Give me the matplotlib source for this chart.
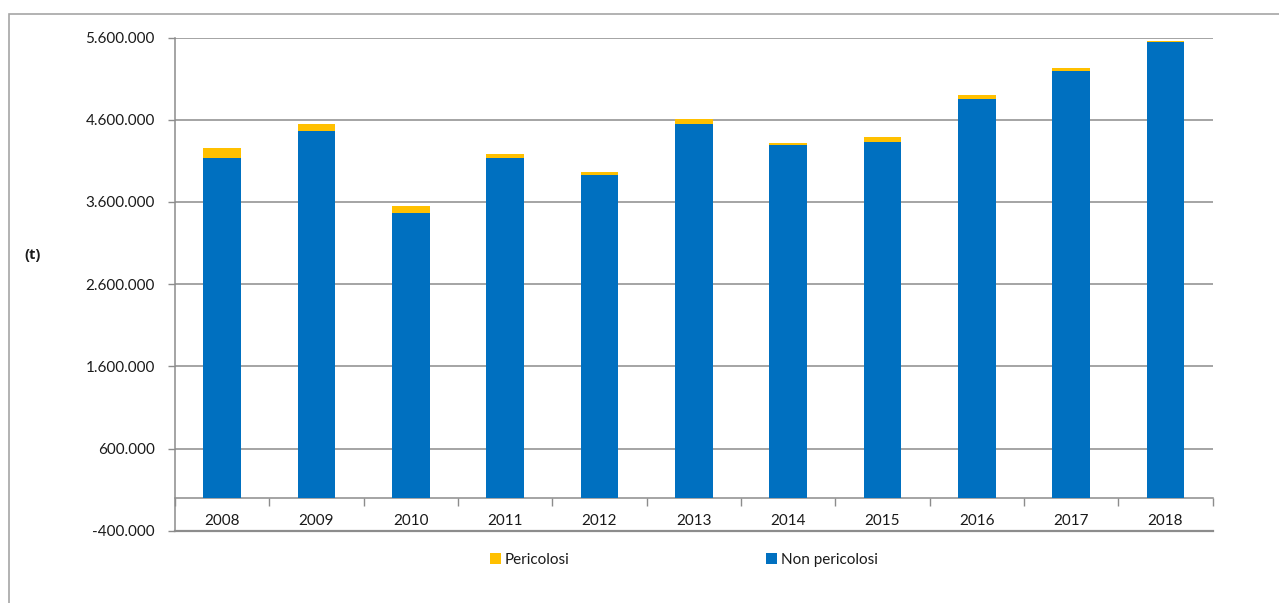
import matplotlib
matplotlib.use("Agg")
import matplotlib.pyplot as plt
import numpy as np
from matplotlib.patches import Rectangle
from matplotlib.ticker import FuncFormatter, FixedLocator

years = ["2008", "2009", "2010", "2011", "2012", "2013", "2014", "2015", "2016", "2017", "2018"]
non_pericolosi = [4133000, 4461000, 3467000, 4133000, 3926000, 4551000, 4287000, 4331000, 4851000, 5196000, 5549000]
pericolosi = [125000, 82000, 81000, 48000, 33000, 53000, 32000, 54000, 49000, 33000, 12000]
y_ticks = [-400000, 600000, 1600000, 2600000, 3600000, 4600000, 5600000]

plt.rcParams['font.family'] = ['Lato', 'DejaVu Sans']
BLUE = '#0070C0'
YELLOW = '#FFC000'
GRID = '#8c8c8c'
TXT = '#1a1a1a'

fig = plt.figure(figsize=(12.79, 6.03), dpi=100)
ax = fig.add_axes([175/1279, 1-530.7/603, (1212.7-175)/1279, (530.7-37.5)/603])

x = np.arange(len(years))
ax.bar(x, non_pericolosi, width=0.4, color=BLUE, label='Non pericolosi', zorder=3)
ax.bar(x, pericolosi, width=0.4, bottom=non_pericolosi, color=YELLOW, label='Pericolosi', zorder=3)

ax.set_xlim(-0.5, len(years)-0.5)
ax.set_ylim(y_ticks[0], y_ticks[-1])

# y axis
ax.set_yticks(y_ticks)
ax.yaxis.set_major_formatter(FuncFormatter(lambda v, p: f"{int(v):,}".replace(",", ".")))
ax.tick_params(axis='y', length=5, width=1, color=GRID, pad=9.5, labelsize=11, labelcolor=TXT)
for t in y_ticks[1:]:
    ax.axhline(t, color=GRID, lw=1.1, zorder=1)
ax.axhline(y_ticks[0], color=GRID, lw=1.6, zorder=2, clip_on=False)

# x axis at zero
ax.spines['bottom'].set_position(('data', 0))
ax.spines['bottom'].set_color(GRID)
ax.spines['bottom'].set_linewidth(1.1)
ax.spines['left'].set_color(GRID)
ax.spines['left'].set_linewidth(1.1)
ax.spines['top'].set_visible(False)
ax.spines['right'].set_visible(False)
ax.xaxis.set_major_locator(FixedLocator(np.arange(len(years)+1) - 0.5))
ax.xaxis.set_major_formatter(FuncFormatter(lambda v, p: ""))
ax.xaxis.set_minor_locator(FixedLocator(x))
ax.set_xticklabels(years, minor=True)
ax.tick_params(axis='x', which='major', length=6, width=1, color=GRID, direction='out')
ax.tick_params(axis='x', which='minor', length=0, pad=12, labelsize=11, labelcolor=TXT)

fig.text(33/1279, 1-255/603, "(t)", fontsize=10.5, fontweight='bold', ha='center', va='center',
         color=TXT, family=['Open Sans', 'DejaVu Sans'])

handles, labels = ax.get_legend_handles_labels()
leg = fig.legend(handles[::-1], labels[::-1], loc='center left', bbox_to_anchor=(490/1279, 1-560/603),
                 ncol=2, frameon=False, fontsize=11, handlelength=0.7, handleheight=0.7,
                 handletextpad=0.25, columnspacing=12.9, borderaxespad=0, borderpad=0)
for txt in leg.get_texts():
    txt.set_color(TXT)

fig.patches.append(Rectangle((9/1279, -0.1), 1.2, 1-14/603+0.1, transform=fig.transFigure,
                             fill=False, edgecolor='#a6a6a6', lw=1.2))

fig.savefig("out.png", dpi=100)
